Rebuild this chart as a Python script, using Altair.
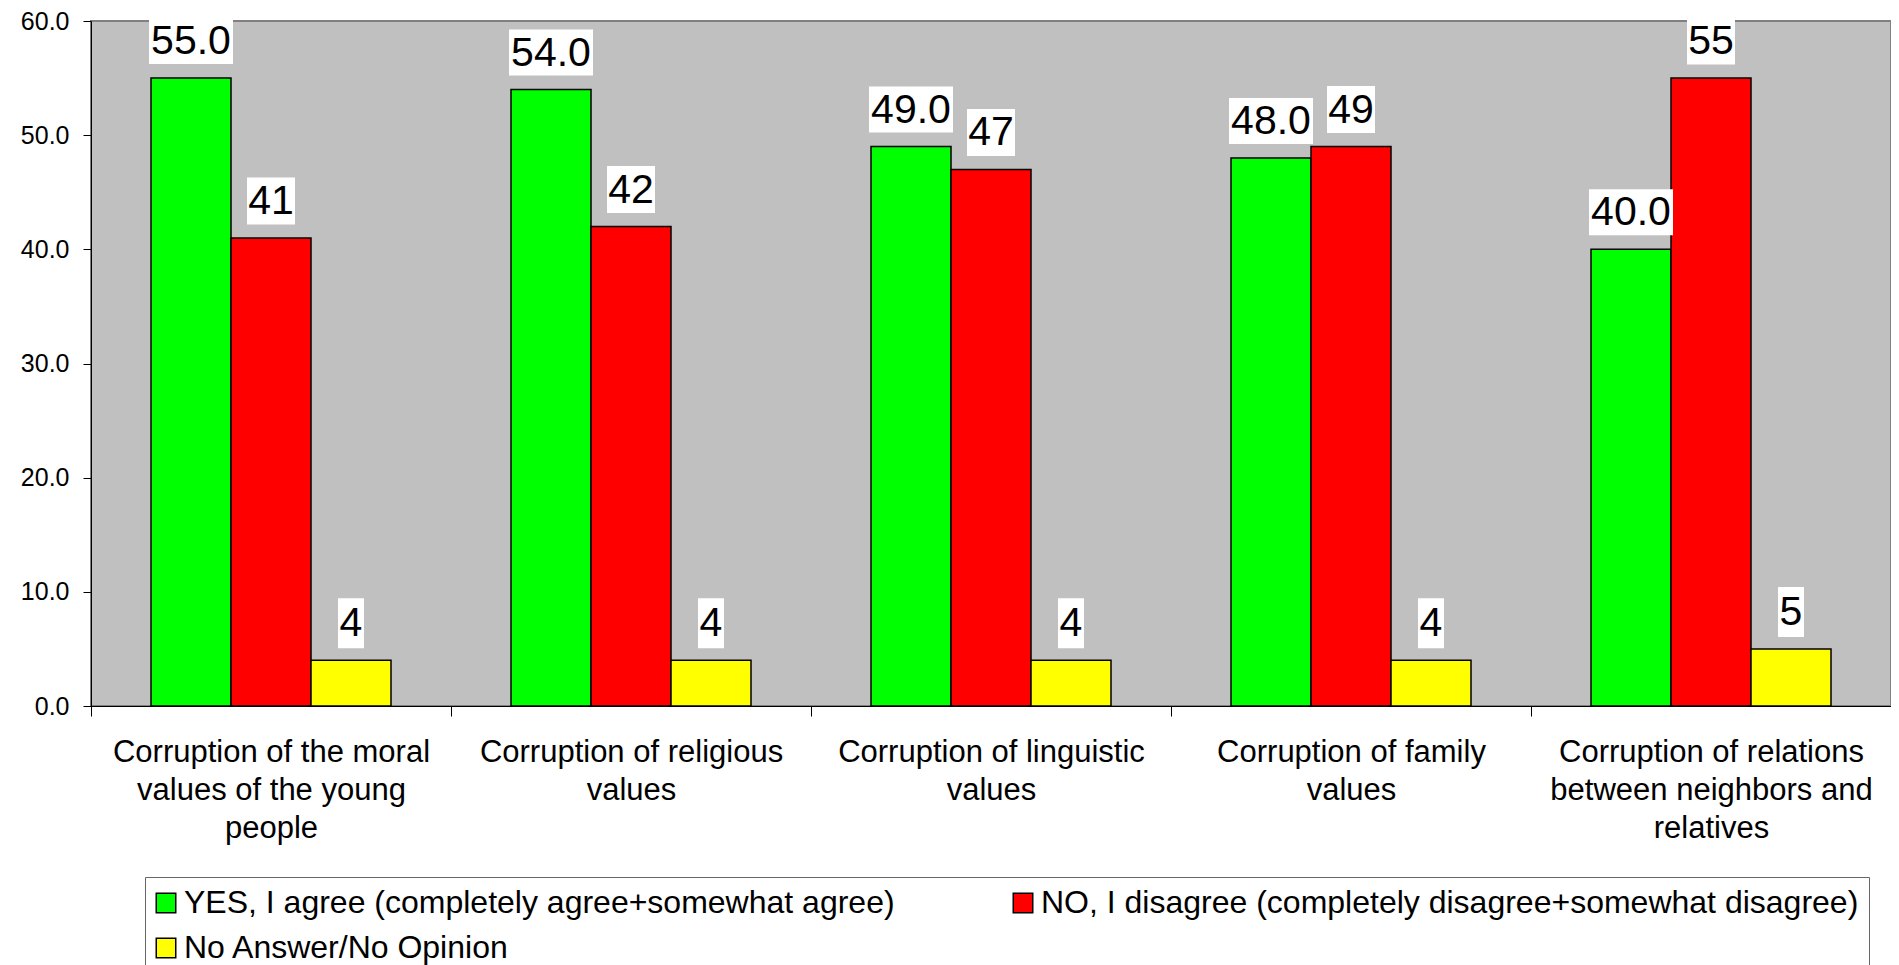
import altair as alt
import pandas as pd

categories = [
    "Corruption of the moral values of the young people",
    "Corruption of religious values",
    "Corruption of linguistic values",
    "Corruption of family values",
    "Corruption of relations between neighbors and relatives",
]
wrapped = [
    ["Corruption of the moral", "values of the young", "people"],
    ["Corruption of religious", "values"],
    ["Corruption of linguistic", "values"],
    ["Corruption of family", "values"],
    ["Corruption of relations", "between neighbors and", "relatives"],
]
series = [
    "YES, I agree (completely agree+somewhat agree)",
    "NO, I disagree (completely disagree+somewhat disagree)",
    "No Answer/No Opinion",
]
yes_values = [55, 54, 49, 48, 40]
no_values = [41, 42, 47, 49, 55]
na_values = [4, 4, 4, 4, 5]
colors = ["#00FF00", "#FF0000", "#FFFF00"]
label_formats = [".1f", "d", "d"]
y_ticks = [0, 10, 20, 30, 40, 50, 60]

rows = []
for s, vals, fmt in zip(series, [yes_values, no_values, na_values], label_formats):
    for c, v in zip(categories, vals):
        rows.append({"category": c, "series": s, "value": v, "fmt": fmt})
df = pd.DataFrame(rows)

# label expression for wrapped category names
expr = "''"
for c, lines in reversed(list(zip(categories, wrapped))):
    arr = "[" + ",".join("'" + l + "'" for l in lines) + "]"
    expr = f"datum.label == '{c}' ? {arr} : ({expr})"

FONT = "Liberation Sans"

x_enc = alt.X(
    "category:N",
    sort=categories,
    title=None,
    scale=alt.Scale(paddingInner=0, paddingOuter=0),
    axis=alt.Axis(
        labelAngle=0,
        labelExpr=expr,
        labelFontSize=31,
        labelLineHeight=38,
        labelFont=FONT,
        labelColor="black",
        labelLimit=600,
        labelPadding=21,
        tickBand="extent",
        tickSize=10,
        tickColor="black",
        domainColor="black",
        labelBaseline="top",
    ),
)
xoff = alt.XOffset(
    "series:N", sort=series, scale=alt.Scale(paddingInner=0, paddingOuter=0.75)
)
y_enc = alt.Y(
    "value:Q",
    title=None,
    scale=alt.Scale(domain=[0, 60], nice=False),
    axis=alt.Axis(
        values=y_ticks,
        format=".1f",
        grid=False,
        labelFontSize=25,
        labelFont=FONT,
        labelColor="black",
        labelPadding=14,
        tickSize=8,
        tickColor="black",
        domainColor="black",
    ),
)

base = alt.Chart(df).transform_calculate(
    label="format(datum.value, datum.fmt)",
    nchar="length(format(datum.value, datum.fmt))",
)

bars = base.mark_bar(stroke="black", strokeWidth=1.5).encode(
    x=x_enc,
    xOffset=xoff,
    y=y_enc,
    color=alt.Color(
        "series:N",
        sort=series,
        scale=alt.Scale(domain=series, range=colors),
        legend=alt.Legend(
            title=None,
            orient="none",
            direction="horizontal",
            legendX=54,
            legendY=856,
            columns=2,
            columnPadding=115,
            rowPadding=13,
            padding=10,
            strokeColor="#666666",
            fillColor="white",
            symbolType="square",
            symbolSize=380,
            symbolStrokeColor="black",
            symbolStrokeWidth=1.5,
            symbolOffset=-5,
            labelFontSize=32,
            labelFont=FONT,
            labelColor="black",
            labelOffset=2,
            labelLimit=1200,
        ),
    ),
)

# white label boxes (custom rectangular symbols): one layer per label length
box_dims = {1: (26, 50), 2: (48, 47), 4: (84, 46)}
box_layers = []
for n, (w, h) in box_dims.items():
    r = h / w
    path = f"M-1,{-r:.4f}L1,{-r:.4f}L1,{r:.4f}L-1,{r:.4f}Z"
    box_layers.append(
        base.transform_filter(f"datum.nchar == {n}")
        .mark_point(
            shape=path,
            size=w * w,
            filled=True,
            fill="white",
            fillOpacity=1,
            opacity=1,
            strokeWidth=0,
            yOffset=-37,
        )
        .encode(
            x=alt.X("category:N", sort=categories),
            xOffset=xoff,
            y=alt.Y("value:Q"),
        )
    )

texts = base.mark_text(
    fontSize=41, font=FONT, color="black", baseline="middle", align="center", dy=-36
).encode(
    x=alt.X("category:N", sort=categories),
    xOffset=xoff,
    y=alt.Y("value:Q"),
    text="label:N",
)

chart = (
    alt.layer(bars, *box_layers, texts)
    .properties(
        width=1800,
        height=685,
        autosize=alt.AutoSizeParams(type="none"),
        padding={"left": 83, "top": 13, "right": 0, "bottom": 259},
    )
    .configure(font=FONT)
    .configure_view(fill="#C0C0C0", stroke="#808080", strokeWidth=2)
)

chart.save("out.html", embed_options={"renderer": "svg", "actions": False})
